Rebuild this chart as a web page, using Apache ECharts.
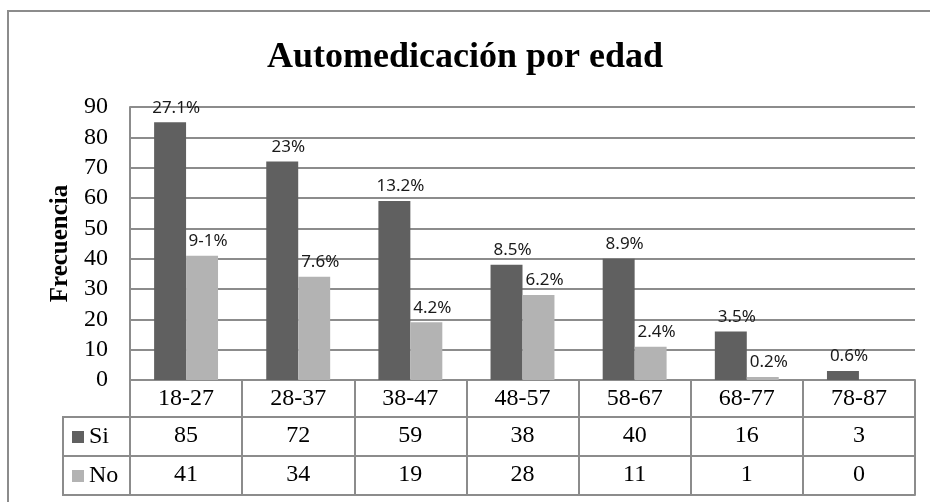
<!DOCTYPE html>
<html>
<head>
<meta charset="utf-8">
<script src="https://cdn.jsdelivr.net/npm/echarts@6/dist/echarts.min.js"></script>
<style>
  html, body { margin: 0; padding: 0; background: #fff; }
  #chart { width: 930px; height: 502px; }
</style>
</head>
<body>
<div id="chart"></div>
<script>
// DATA
const categories = ['18-27', '28-37', '38-47', '48-57', '58-67', '68-77', '78-87'];
const siValues = [85, 72, 59, 38, 40, 16, 3];
const noValues = [41, 34, 19, 28, 11, 1, 0];
const siLabels = ['27.1%', '23%', '13.2%', '8.5%', '8.9%', '3.5%', '0.6%'];
const noLabels = ['9-1%', '7.6%', '4.2%', '6.2%', '2.4%', '0.2%', ''];
const seriesNames = ['Si', 'No'];
const yMin = 0, yMax = 90, yStep = 10;

// LAYOUT
const W = 930, H = 502;
const GRID_LEFT = 130, GRID_RIGHT = 15, GRID_TOP = 107, AXIS_Y = 380;
const ROW_H = [37, 39, 39];   // category row, Si row, No row
const LEGEND_COL = 67;
const LINE = '#8c8c8c';
const SI_COLOR = '#606060', NO_COLOR = '#b3b3b3';
const SERIF = '"Liberation Serif", "Times New Roman", serif';

const rowOffsets = [ROW_H[0], ROW_H[0] + ROW_H[1], ROW_H[0] + ROW_H[1] + ROW_H[2]];

const gridBox = {left: GRID_LEFT, right: GRID_RIGHT, top: GRID_TOP, bottom: H - AXIS_Y};

// the table rows are extra x axes, each on its own copy of the grid
const rowText = [null, i => siValues[i], i => noValues[i], null];
const xAxes = rowText.map((fn, k) => ({
  type: 'category',
  gridIndex: k,
  data: categories,
  position: 'bottom',
  offset: k === 0 ? 0 : rowOffsets[k - 1],
  axisLine: {show: true, onZero: false, lineStyle: {color: LINE, width: 2}},
  axisTick: k === 0
    ? {show: true, length: rowOffsets[2], lineStyle: {color: LINE, width: 2}}
    : {show: false},
  splitLine: {show: false},
  axisLabel: {
    show: k < 3,
    interval: 0,
    margin: 7,
    color: '#000',
    fontFamily: SERIF,
    fontSize: 24,
    formatter: fn ? (v, i) => String(fn(i)) : '{value}'
  }
}));

const yAxes = rowText.map((fn, k) => k === 0 ? {
  type: 'value',
  gridIndex: 0,
  min: yMin, max: yMax, interval: yStep,
  name: 'Frecuencia',
  nameLocation: 'middle',
  nameGap: 57,
  nameRotate: 90,
  nameTextStyle: {fontFamily: SERIF, fontWeight: 'bold', fontSize: 25, color: '#000'},
  axisLine: {show: true, lineStyle: {color: LINE, width: 2}},
  axisTick: {show: false},
  splitLine: {lineStyle: {color: LINE, width: 2}},
  axisLabel: {color: '#000', fontFamily: SERIF, fontSize: 24, margin: 22}
} : {type: 'value', gridIndex: k, min: yMin, max: yMax, show: false});

const pctLabel = texts => ({
  show: true,
  position: 'top',
  distance: 6,
  offset: [6, 0],
  color: '#1a1a1a',
  fontFamily: '"Noto Sans", sans-serif',
  fontSize: 17,
  formatter: p => texts[p.dataIndex]
});

var chart = echarts.init(document.getElementById('chart'));

chart.setOption({
  animation: false,
  title: {
    text: 'Automedicación por edad',
    left: 'center',
    top: 35,
    textStyle: {fontFamily: SERIF, fontWeight: 'bold', fontSize: 36, color: '#000'}
  },
  legend: {
    data: seriesNames,
    orient: 'vertical',
    left: GRID_LEFT - LEGEND_COL + 9,
    top: AXIS_Y + ROW_H[0] + 8,
    padding: 0,
    itemWidth: 12,
    itemHeight: 12,
    itemGap: 15,
    icon: 'rect',
    selectedMode: false,
    textStyle: {fontFamily: SERIF, fontSize: 24, color: '#000'}
  },
  grid: rowText.map(() => Object.assign({}, gridBox)),
  xAxis: xAxes,
  yAxis: yAxes,
  series: [
    {
      name: seriesNames[0],
      type: 'bar',
      data: siValues,
      barGap: '0%',
      barCategoryGap: '43%',
      itemStyle: {color: SI_COLOR},
      label: pctLabel(siLabels)
    },
    {
      name: seriesNames[1],
      type: 'bar',
      data: noValues,
      barGap: '0%',
      barCategoryGap: '43%',
      itemStyle: {color: NO_COLOR},
      label: pctLabel(noLabels)
    }
  ],
  graphic: [
    // outer chart frame
    {type: 'rect', silent: true,
     shape: {x: 8, y: 11, width: W, height: H},
     style: {fill: 'none', stroke: LINE, lineWidth: 2}},
    // legend column of the data table
    {type: 'rect', silent: true,
     shape: {x: GRID_LEFT - LEGEND_COL, y: AXIS_Y + rowOffsets[0],
             width: LEGEND_COL, height: rowOffsets[2] - rowOffsets[0]},
     style: {fill: 'none', stroke: LINE, lineWidth: 2}},
    {type: 'line', silent: true,
     shape: {x1: GRID_LEFT - LEGEND_COL, y1: AXIS_Y + rowOffsets[1],
             x2: GRID_LEFT, y2: AXIS_Y + rowOffsets[1]},
     style: {stroke: LINE, lineWidth: 2}}
  ]
});
</script>
</body>
</html>
